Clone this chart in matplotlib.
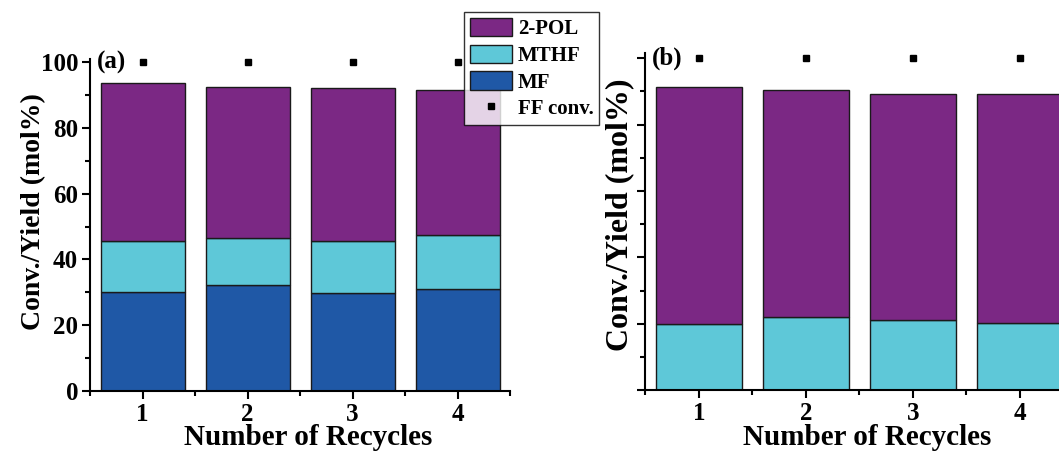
import matplotlib
matplotlib.use("Agg")
import matplotlib.pyplot as plt
from matplotlib.ticker import MultipleLocator, NullFormatter
from matplotlib.patches import Patch
from matplotlib.lines import Line2D

plt.rcParams['font.family'] = ['Liberation Serif', 'DejaVu Serif']
plt.rcParams['font.weight'] = 'bold'

recycles = [1, 2, 3, 4]

# panel (a)
a_mf = [30.0, 32.1, 29.9, 30.9]
a_mthf = [15.6, 14.4, 15.7, 16.5]
a_pol = [48.0, 45.9, 46.5, 44.1]
a_ff = [100, 100, 100, 100]

# panel (b)
b_mthf = [20.0, 22.0, 21.1, 20.1]
b_pol = [71.3, 68.4, 68.1, 69.1]
b_ff = [100, 100, 100, 100]

c_pol = '#7b2884'
c_mthf = '#5ec8d8'
c_mf = '#1f58a6'

fig = plt.figure(figsize=(10.59, 4.59), dpi=100)
ax1 = fig.add_axes([0.085, 0.148, 0.3966, 0.724])
ax2 = fig.add_axes([0.6095, 0.150, 0.4042, 0.734])


def style(ax, labels=True, ylab_size=20):
    for s in ['top', 'right']:
        ax.spines[s].set_visible(False)
    for s in ['left', 'bottom']:
        ax.spines[s].set_linewidth(1.5)
    ax.set_xlim(0.5, 4.5)
    ax.set_xticks(recycles)
    ax.xaxis.set_minor_locator(MultipleLocator(1, offset=0.5))
    ax.yaxis.set_major_locator(MultipleLocator(20))
    ax.yaxis.set_minor_locator(MultipleLocator(10))
    ax.tick_params(which='major', length=6, width=1.5, labelsize=18, pad=2.5)
    ax.tick_params(which='minor', length=3.5, width=1.5)
    if not labels:
        ax.yaxis.set_major_formatter(NullFormatter())
    ax.set_xlabel('Number of Recycles', fontsize=21, fontweight='bold')
    ax.set_ylabel('Conv./Yield (mol%)', fontsize=ylab_size, fontweight='bold')


w = 0.8
ek = dict(edgecolor='#1a1a1a', linewidth=1.0)
ax1.bar(recycles, a_mf, w, color=c_mf, **ek)
ax1.bar(recycles, a_mthf, w, bottom=a_mf, color=c_mthf, **ek)
bot = [m + t for m, t in zip(a_mf, a_mthf)]
ax1.bar(recycles, a_pol, w, bottom=bot, color=c_pol, **ek)
ax1.plot(recycles, a_ff, 's', color='black', markersize=5, linestyle='none', clip_on=False)
ax1.set_ylim(0, 101)
style(ax1)
ax1.yaxis.set_label_coords(-0.105, 0.54)
ax1.xaxis.set_label_coords(0.52, -0.098)
ax1.text(0.567, 100, '(a)', fontsize=18, fontweight='bold', va='center', ha='left')

ax2.bar(recycles, b_mthf, w, color=c_mthf, **ek)
ax2.bar(recycles, b_pol, w, bottom=b_mthf, color=c_pol, **ek)
ax2.plot(recycles, b_ff, 's', color='black', markersize=5, linestyle='none', clip_on=False)
ax2.set_ylim(0, 101.5)
style(ax2, labels=False, ylab_size=23)
ax2.yaxis.set_label_coords(-0.027, 0.52)
ax2.xaxis.set_label_coords(0.517, -0.1)
ax2.text(0.56, 100, '(b)', fontsize=18, fontweight='bold', va='center', ha='left')

handles = [Patch(facecolor=c_pol, edgecolor='#1a1a1a', label='2-POL'),
           Patch(facecolor=c_mthf, edgecolor='#1a1a1a', label='MTHF'),
           Patch(facecolor=c_mf, edgecolor='#1a1a1a', label='MF'),
           Line2D([], [], marker='s', color='black', linestyle='none', markersize=5, label='FF conv.')]
fig.legend(handles=handles, loc='upper left', bbox_to_anchor=(464 / 1059, 1 - 12 / 459),
           frameon=True, fancybox=False, edgecolor='black',
           prop={'weight': 'bold', 'size': 15}, handlelength=2.0, handleheight=1.0,
           handletextpad=0.3, labelspacing=0.25, borderpad=0.28, borderaxespad=0)

fig.savefig('out.png', dpi=100)
